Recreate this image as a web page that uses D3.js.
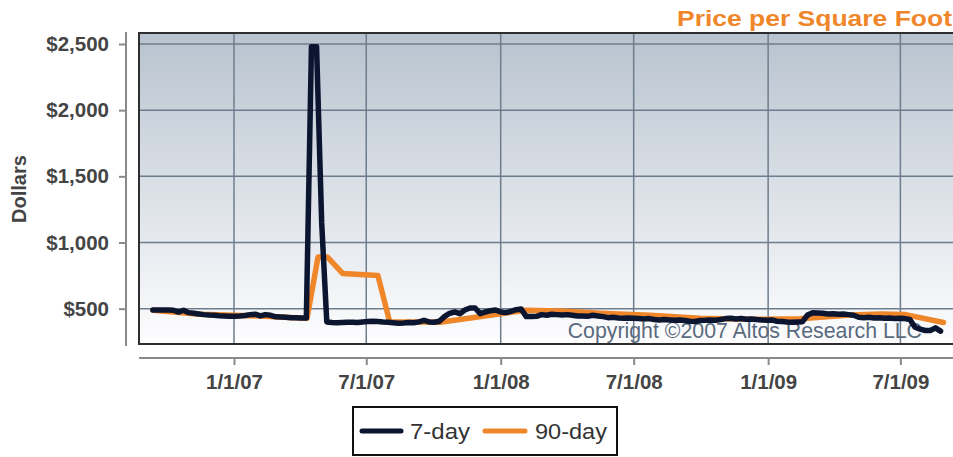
<!DOCTYPE html>
<html><head><meta charset="utf-8">
<script src="https://cdn.jsdelivr.net/npm/d3@7"></script>
<style>html,body{margin:0;padding:0;background:#fff;}svg{display:block;font-family:"Liberation Sans",Arial,sans-serif;}</style>
</head><body><svg id="c" width="953" height="457"></svg>
<script>
// ---- data ----
const sevenDayStart = "2006-09-12"; // weekly series start
const sevenDay = [
  490,490,490,490,488,474,488,470,465,460,
  455,452,450,447,445,443,443,445,448,455,
  458,445,455,450,438,437,435,432,432,430,
  430,2480,2480,1150,400,395,393,395,397,398,
  395,400,403,405,403,400,398,393,390,392,
  395,393,400,412,400,397,405,440,465,475,
  462,490,505,505,462,475,485,490,475,470,
  480,492,498,440,440,442,455,450,458,455,
  452,455,450,445,445,442,450,445,440,432,
  435,430,428,430,428,425,422,425,418,415,
  418,415,412,415,410,405,403,410,412,415,
  412,418,425,428,422,425,420,422,418,415,
  412,415,405,403,400,398,400,402,452,470,
  468,465,460,462,458,460,455,450,435,432,
  435,430,432,428,430,425,428,425,418,360,
  345,335,335,355,330
];
const ninetyDates = ["2006-09-12","2006-11-15","2007-01-23","2007-03-18","2007-04-11","2007-04-26",
  "2007-05-09","2007-05-30","2007-07-17","2007-08-02","2007-10-10","2008-01-01","2008-02-04",
  "2008-03-23","2008-05-17","2008-07-24","2008-09-30","2008-12-08","2009-02-14","2009-04-24",
  "2009-06-04","2009-07-08","2009-08-29"];
const ninetyDay = [488,458,447,433,428,890,890,765,750,402,397,462,488,482,465,450,428,420,423,452,460,455,395];
const yTicks = [500,1000,1500,2000,2500];
const xTickDates = ["2007-01-01","2007-07-01","2008-01-01","2008-07-01","2009-01-01","2009-07-01"];
const xTickLabels = ["1/1/07","7/1/07","1/1/08","7/1/08","1/1/09","7/1/09"];
const seriesNames = ["7-day","90-day"];
const seriesColors = ["#0b1530","#f0862a"];
const titleText = "Price per Square Foot";
const yLabel = "Dollars";
const copyrightText = "Copyright \u00A92007 Altos Research LLC";

// ---- layout ----
const parse = d3.utcParse("%Y-%m-%d");
const P = {left:139, right:953, top:33, bottom:344};
const x = d3.scaleUtc().domain([parse("2006-08-24"), parse("2009-09-11")]).range([P.left, P.right]);
const y = d3.scaleLinear().domain([233, 2583]).range([P.bottom, P.top]);

const svg = d3.select("#c");
const defs = svg.append("defs");
const grad = defs.append("linearGradient").attr("id","bg").attr("x1",0).attr("y1",0).attr("x2",0).attr("y2",1);
grad.append("stop").attr("offset","0%").attr("stop-color","#b8c3cf");
grad.append("stop").attr("offset","100%").attr("stop-color","#fdfdfe");
defs.append("clipPath").attr("id","clip").append("rect")
  .attr("x",P.left).attr("y",P.top).attr("width",P.right-P.left).attr("height",P.bottom-P.top);

svg.append("rect").attr("x",P.left).attr("y",P.top).attr("width",P.right-P.left).attr("height",P.bottom-P.top)
  .attr("fill","url(#bg)");

// gridlines
const grid = svg.append("g").attr("stroke","#6e7d8d").attr("stroke-width",1.5);
grid.selectAll("line.h").data(yTicks).join("line").attr("class","h")
  .attr("x1",P.left).attr("x2",P.right).attr("y1",d=>y(d)).attr("y2",d=>y(d));
grid.selectAll("line.v").data(xTickDates).join("line").attr("class","v")
  .attr("y1",P.top).attr("y2",P.bottom).attr("x1",d=>x(parse(d))).attr("x2",d=>x(parse(d)));

// copyright
svg.append("text").attr("x",922).attr("y",338).attr("text-anchor","end")
  .attr("font-size",21.3).attr("fill","#5a6a7e").text(copyrightText);

// lines
const sevenData = sevenDay.map((v,i)=>({d:d3.utcDay.offset(parse(sevenDayStart),7*i), v}));
const ninetyData = ninetyDay.map((v,i)=>({d:parse(ninetyDates[i]), v}));
const line = d3.line().x(p=>x(p.d)).y(p=>y(p.v));
const lines = svg.append("g").attr("clip-path","url(#clip)");
lines.append("path").datum(ninetyData).attr("d",line).attr("fill","none")
  .attr("stroke",seriesColors[1]).attr("stroke-width",5.5).attr("stroke-linejoin","round").attr("stroke-linecap","round");
lines.append("path").datum(sevenData).attr("d",line).attr("fill","none")
  .attr("stroke",seriesColors[0]).attr("stroke-width",5.5).attr("stroke-linejoin","round").attr("stroke-linecap","round");

// plot border (top, left, bottom)
svg.append("path").attr("d",`M${P.right},${P.top}H${P.left}V${P.bottom}H${P.right}`)
  .attr("fill","none").attr("stroke","#2e2e2e").attr("stroke-width",2);

// y axis
const yAxis = d3.axisLeft(y).tickValues(yTicks).tickSize(7).tickPadding(10)
  .tickFormat(d=>"$"+d3.format(",")(d));
const gy = svg.append("g").attr("transform","translate(126,0)").call(yAxis);
gy.select(".domain").attr("d",`M0,32V346`).attr("stroke","#8a8a8a").attr("stroke-width",2);
gy.selectAll(".tick line").attr("stroke","#8a8a8a").attr("stroke-width",2);
gy.selectAll(".tick text").attr("font-size",20.5).attr("font-weight","bold").attr("fill","#444")
  .attr("font-family","Liberation Sans, Arial, sans-serif");

// x axis
const xAxis = d3.axisBottom(x).tickValues(xTickDates.map(parse)).tickSize(7).tickPadding(9)
  .tickFormat((d,i)=>xTickLabels[i]);
const gx = svg.append("g").attr("transform","translate(0,358)").call(xAxis);
gx.select(".domain").attr("d",`M${P.left},0H${P.right}`).attr("stroke","#8a8a8a").attr("stroke-width",2);
gx.selectAll(".tick line").attr("stroke","#8a8a8a").attr("stroke-width",2);
gx.selectAll(".tick text").attr("font-size",20.5).attr("font-weight","bold").attr("fill","#444")
  .attr("font-family","Liberation Sans, Arial, sans-serif");

// y label
svg.append("text").attr("transform","translate(26,189) rotate(-90)").attr("text-anchor","middle")
  .attr("font-size",20).attr("font-weight","bold").attr("fill","#444").text(yLabel);

// title
svg.append("text").attr("x",677).attr("y",26).attr("font-size",22).attr("font-weight","bold")
  .attr("fill","#f0862a").attr("textLength",275).attr("lengthAdjust","spacingAndGlyphs").text(titleText);

// legend
const lg = svg.append("g");
lg.append("rect").attr("x",353).attr("y",407).attr("width",264).attr("height",48)
  .attr("fill","#fff").attr("stroke","#111").attr("stroke-width",2);
const legItems = [{x1:362,x2:401,tx:410,tl:60},{x1:485,x2:525,tx:535,tl:72}];
legItems.forEach((it,i)=>{
  lg.append("line").attr("x1",it.x1).attr("x2",it.x2).attr("y1",431).attr("y2",431)
    .attr("stroke",seriesColors[i]).attr("stroke-width",5).attr("stroke-linecap","round");
  lg.append("text").attr("x",it.tx).attr("y",438.5).attr("font-size",22).attr("fill","#333")
    .attr("textLength",it.tl).attr("lengthAdjust","spacingAndGlyphs").text(seriesNames[i]);
});
</script></body></html>
